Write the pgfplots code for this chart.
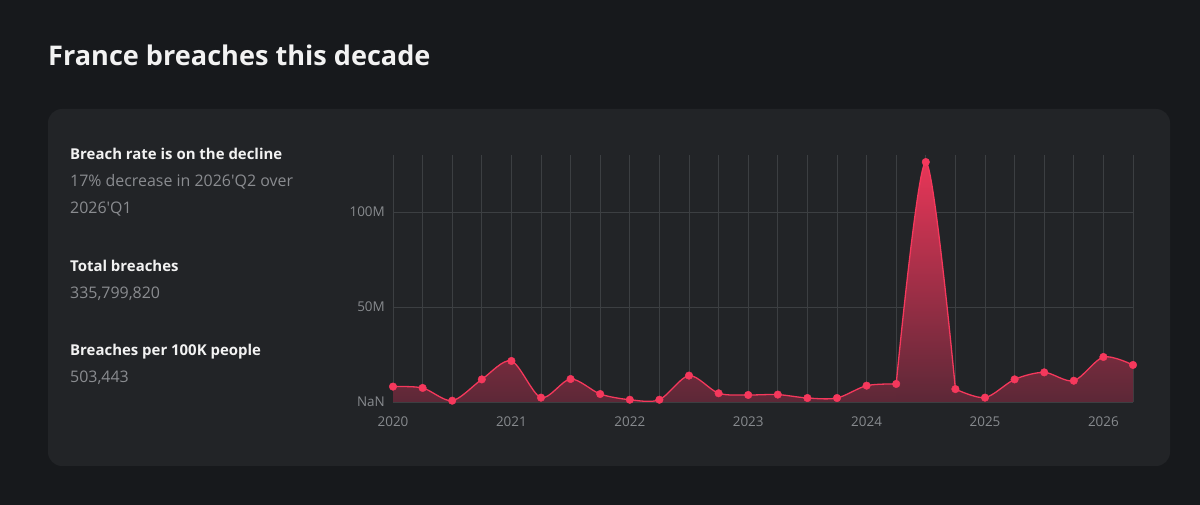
\documentclass[border=0pt]{standalone}
\usepackage{fontspec}
\setmainfont{Open Sans}
\usepackage{pgfplots}
\pgfplotsset{compat=1.18}
\usepackage{pgfplotstable}
\definecolor{bgout}{RGB}{23,25,28}
\definecolor{card}{RGB}{34,36,39}
\definecolor{gridc}{RGB}{60,63,66}
\definecolor{tickc}{RGB}{135,138,142}
\definecolor{subc}{RGB}{138,140,144}
\definecolor{titlec}{RGB}{242,242,242}
\definecolor{linec}{RGB}{245,56,92}
\definecolor{fbot}{RGB}{92,40,55}
\definecolor{ftop}{RGB}{232,54,88}
\definecolor{fsmall}{RGB}{118,43,61}

\pgfplotstableread{
x y
0 8.1
1 7.4
2 0.7
3 11.9
4 21.6
5 2.3
6 12.1
7 4.2
8 1.2
9 1.2
10 13.9
11 4.6
12 3.7
13 3.9
14 2.1
15 2.1
16 8.6
17 9.5
}\tA
\pgfplotstableread{
x y
17 9.5
18 126.3
19 6.8
}\tB
\pgfplotstableread{
x y
19 6.8
20 2.3
21 11.9
22 15.6
23 11.2
24 23.7
25 19.5
}\tC
\pgfplotstableread{
x y
0 8.1
1 7.4
2 0.7
3 11.9
4 21.6
5 2.3
6 12.1
7 4.2
8 1.2
9 1.2
10 13.9
11 4.6
12 3.7
13 3.9
14 2.1
15 2.1
16 8.6
17 9.5
18 126.3
19 6.8
20 2.3
21 11.9
22 15.6
23 11.2
24 23.7
25 19.5
}\tAll

\begin{document}
\begin{tikzpicture}
\fill[bgout] (0bp,0bp) rectangle (1200bp,505bp);
\fill[card, rounded corners=14bp] (48bp,39bp) rectangle (1170bp,396bp);
\node[anchor=base west, inner sep=0pt, text=titlec, font=\fontsize{27.2}{32}\selectfont\bfseries] at (48bp,439bp) {France breaches this decade};
\begin{scope}[every node/.style={anchor=base west, inner sep=0pt}]
\node[text=titlec, font=\fontsize{15}{18}\selectfont\bfseries] at (70bp,345bp) {Breach rate is on the decline};
\node[text=subc, font=\fontsize{16}{19}\selectfont] at (70bp,318.3bp) {17\% decrease in 2026\textquotesingle Q2 over};
\node[text=subc, font=\fontsize{16}{19}\selectfont] at (70bp,291bp) {2026\textquotesingle Q1};
\node[text=titlec, font=\fontsize{15}{18}\selectfont\bfseries] at (70bp,233.3bp) {Total breaches};
\node[text=subc, font=\fontsize{16}{19}\selectfont] at (70bp,206.3bp) {335,799,820};
\node[text=titlec, font=\fontsize{15}{18}\selectfont\bfseries] at (70bp,149bp) {Breaches per 100K people};
\node[text=subc, font=\fontsize{16}{19}\selectfont] at (70bp,122.3bp) {503,443};
\end{scope}
\begin{axis}[
  at={(393bp,103bp)}, anchor=south west,
  scale only axis, width=740bp, height=247bp,
  xmin=0, xmax=25, ymin=0, ymax=130,
  xtick={0,...,25},
  xticklabels={2020,,,,2021,,,,2022,,,,2023,,,,2024,,,,2025,,,,2026,},
  ytick={0,50,100}, yticklabels={NaN,50M,100M},
  grid=major, major grid style={draw=gridc, line width=0.9bp},
  axis line style={draw=none}, major tick length=0pt,
  tick label style={font=\fontsize{13.5}{16}\selectfont, text=tickc},
  yticklabel style={anchor=east, inner sep=0pt, xshift=-8bp},
  xticklabel style={anchor=north, inner sep=0pt, yshift=-15bp},
  /pgf/number format/assume math mode=true,
]
\addplot[draw=none, smooth, tension=0.5, top color=fsmall, bottom color=fbot] table[x=x,y=y] {\tA} \closedcycle;
\addplot[draw=none, smooth, tension=0.5, top color=ftop, bottom color=fbot] table[x=x,y=y] {\tB} \closedcycle;
\addplot[draw=none, smooth, tension=0.5, top color=fsmall, bottom color=fbot] table[x=x,y=y] {\tC} \closedcycle;
\addplot[linec, line width=1.3bp, smooth, tension=0.5, no marks] table[x=x,y=y] {\tA};
\addplot[linec, line width=1.3bp, smooth, tension=0.5, no marks] table[x=x,y=y] {\tB};
\addplot[linec, line width=1.3bp, smooth, tension=0.5, no marks] table[x=x,y=y] {\tC};
\addplot[linec, only marks, mark=*, mark size=3.8bp, mark options={solid, fill=linec, draw=linec, line width=0.4pt}] table[x=x,y=y] {\tAll};
\end{axis}
\end{tikzpicture}
\end{document}
